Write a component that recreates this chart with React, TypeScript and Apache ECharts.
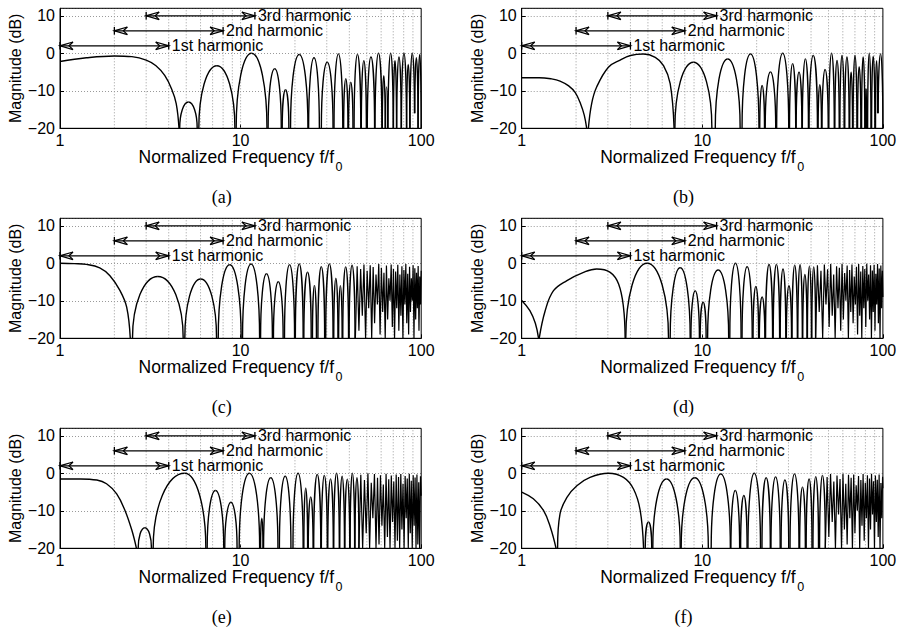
import React, { useEffect, useRef } from 'react';
import * as echarts from 'echarts';

// ---------- data ----------
const xTicks = [1, 10, 100];
const minorGrid = [2, 3, 4, 5, 6, 7, 8, 9, 10, 20, 30, 40, 50, 60, 70, 80, 90];
const yTicks = [-20, -10, 0, 10];
const yTop = 12;
const captions = ['(a)', '(b)', '(c)', '(d)', '(e)', '(f)'];

const harmonicStart = [1, 2, 3];
const harmonicEnd = [4, 8, 12];
const harmonicLevel = [2, 6, 10];
const harmonicLabels = ['1st harmonic', '2nd harmonic', '3rd harmonic'];

// lobe = [left edge f, right edge f, peak dB, left base dB?, right base dB?, peak f?]

// panel (a)
const headA = [
  [[1, -2.2], [1.4, -1.2], [2, -0.7], [2.5, -0.9], [3, -1.8], [3.4, -3.3], [3.8, -5.9], [4.15, -9.5], [4.4, -13.4], [4.56, -20]],
];
const lobesA = [
  [4.6, 5.75, -13], [5.87, 9.3, -3.3], [9.45, 14.0, 0], [14.2, 16.8, -4.1], [17.0, 18.5, -9.7],
  [18.9, 23.6, -0.3], [23.8, 27.3, -1.2], [28.0, 32.5, -2.4], [32.9, 36.8, -0.2], [37.2, 39.3, -6.8],
  [39.6, 41.9, -7.7], [42.5, 46.3, -0.3], [46.6, 49.7, -2], [50.3, 55.2, -1], [55.5, 60.6, 0],
  [60.9, 63.2, -6], [63.4, 65.2, -9], [65.5, 70.0, 0], [70.2, 73.0, -2], [73.2, 77.5, -1],
  [77.7, 82.9, 0], [83.1, 86.5, -3], [86.7, 91.8, 0, -20, -16], [92.2, 96.0, -1.2, -16, -20], [96.2, 100, -0.3],
];
const zigA: number[][] = [];

// panel (b)
const headB = [
  [[1, -6.5], [1.25, -6.5], [1.45, -6.8], [1.63, -7.4], [1.82, -8.7], [1.98, -10.5], [2.12, -13.5], [2.22, -16.5], [2.29, -20]],
  [[2.34, -20], [2.44, -13.4], [2.6, -9], [3.02, -3.7], [3.51, -1.8], [4.0, -0.6], [4.72, -0.2], [5.49, -1.1], [6.1, -3.3], [6.64, -8.1], [6.98, -20]],
];
const lobesB = [
  [7.05, 11.3, -2.4], [11.8, 16.2, -1.5], [16.6, 20.6, -0.2], [20.8, 22.1, -8.6], [22.3, 25.5, -5],
  [25.8, 30.1, 0], [30.4, 32.9, -2.8], [33.1, 35.6, -5], [35.8, 38.7, -1.5], [39.0, 43.4, -0.6],
  [43.8, 45.7, -8.4], [46.0, 49.8, -4.3], [50.2, 53.8, 0], [54.2, 57.3, -1.9], [57.8, 61.0, -0.6],
  [61.5, 65.0, -1], [65.5, 67.9, -5], [68.4, 71.8, -0.6], [72.4, 75.5, -3.6], [76.2, 79.4, -1],
  [80.0, 81.3, -9.4], [82.3, 85.9, 0], [86.6, 90.3, -0.8], [91.0, 93.5, -2, -20, -16], [94.2, 100, -0.2, -16, -20],
];
const zigB: number[][] = [];

// panel (c)
const headC = [
  [[1, 0], [1.2, -0.1], [1.4, -0.3], [1.66, -1.2], [1.89, -3.3], [2.15, -7.3], [2.34, -11.7], [2.45, -20]],
];
const lobesC = [
  [2.52, 4.81, -3.5], [4.91, 7.36, -4.2], [7.52, 10.07, -0.4], [10.25, 12.74, -0.2], [12.9, 15.0, -2.8],
  [15.2, 17.2, -4.9], [17.5, 19.9, -0.4], [20.1, 22.2, -0.2], [22.4, 24.6, -2.4], [25.0, 26.3, -5.9],
  [26.8, 29.2, -0.9], [29.6, 32.5, -0.2], [32.8, 34.6, -4], [34.9, 36.5, -6], [36.8, 39.6, -1],
  [39.9, 43.0, -0.5],
];
const zigC = [
  [43.2, -20], [44.2, -0.8], [45.2, -18], [46.2, -1.5], [47.2, -14], [48.2, -0.3], [49.2, -20], [50.2, -2],
  [51.2, -12], [52.2, -0.5], [53.2, -20], [54.2, -1], [55.2, -16], [56.2, -3], [57.2, -11], [58.2, -0.2],
  [59.2, -19], [60.2, -1.2], [61.2, -13], [62.2, -2.5], [63.2, -20], [64.2, -0.6], [65.2, -15], [66.2, -4],
  [67.2, -10], [68.2, -0.3], [69.2, -17], [70.2, -1.5], [71.2, -20], [72.2, -2.2], [73.2, -12], [74.2, -0.4],
  [75.2, -18], [76.2, -3], [77.2, -14], [78.2, -0.8], [79.2, -20], [80.2, -1.8], [81.2, -11], [82.2, -0.2],
  [83.2, -16], [84.2, -2.8], [85.2, -19], [86.2, -0.9], [87.2, -13], [88.2, -4], [89.2, -10], [90.2, -0.5],
  [91.2, -20], [92.2, -1.3], [93.2, -15], [94.2, -2.5], [95.2, -12], [96.2, -0.7], [97.2, -18], [98.2, -3.5],
  [99.2, -11], [100, -2],
];

// panel (d)
const headD = [
  [[1, -9.9], [1.11, -12.6], [1.19, -16], [1.24, -20]],
  [[1.25, -20], [1.35, -12.6], [1.5, -7.3], [1.78, -4.6], [2.2, -2.4], [2.6, -1.5], [3.09, -2.4], [3.44, -5.5], [3.66, -11.7], [3.74, -20]],
];
const lobesD = [
  [3.77, 6.5, 0], [6.64, 8.57, -1.2], [8.65, 9.64, -7.3], [9.73, 10.5, -10.4], [10.7, 14.0, -1.8],
  [14.2, 16.4, 0], [16.6, 18.9, -0.9], [19.1, 20.5, -6.2], [20.7, 22.2, -9], [22.4, 24.5, -0.3],
  [24.7, 26.8, -0.3], [27.0, 29.0, -1.5], [29.2, 31.2, -6], [31.4, 33.6, -0.5], [33.8, 35.8, -0.4],
  [36.0, 38.0, -3], [38.2, 40.2, -0.8], [40.4, 42.4, -1],
];
const zigD = [
  [42.4, -20], [43.4, -0.5], [44.4, -13], [45.4, -2], [46.4, -20], [47.4, -0.3], [48.4, -11], [49.4, -1.6],
  [50.4, -17], [51.4, -0.2], [52.4, -14], [53.4, -3], [54.4, -20], [55.4, -0.8], [56.4, -12], [57.4, -1.2],
  [58.4, -18], [59.4, -0.1], [60.4, -15], [61.4, -2.6], [62.4, -10], [63.4, -0.6], [64.4, -20], [65.4, -1.8],
  [66.4, -13], [67.4, -0.3], [68.4, -16], [69.4, -3.5], [70.4, -11], [71.4, -0.9], [72.4, -19], [73.4, -0.2],
  [74.4, -14], [75.4, -2.2], [76.4, -20], [77.4, -0.7], [78.4, -12], [79.4, -1.5], [80.4, -17], [81.4, -0.1],
  [82.4, -10], [83.4, -3], [84.4, -15], [85.4, -0.5], [86.4, -20], [87.4, -1.9], [88.4, -13], [89.4, -0.4],
  [90.4, -18], [91.4, -2.8], [92.4, -11], [93.4, -0.2], [94.4, -16], [95.4, -1.4], [96.4, -20], [97.4, -0.6],
  [98.4, -12], [99.4, -2], [100, -9],
];

// panel (e)
const headE = [
  [[1, -1.5], [1.3, -1.5], [1.6, -1.8], [1.81, -2.8], [2.06, -5.5], [2.29, -9.9], [2.5, -15.2], [2.65, -20]],
];
const lobesE = [
  [2.71, 3.21, -14.5], [3.28, 6.42, 0, -20, -20, 4.9], [6.53, 8.07, -4.6], [8.17, 9.56, -7.7], [9.82, 12.75, 0],
  [12.9, 13.3, -12], [13.4, 16.1, -1.2], [16.4, 19.0, -0.8], [19.5, 22.2, 0], [22.4, 23.5, -4],
  [23.7, 25.2, -6.3], [25.4, 27.8, -0.3], [28.0, 30.2, -0.6], [30.4, 32.6, -1.5], [32.8, 35.2, 0],
  [35.4, 37.6, -0.8], [37.8, 40.2, -1.6], [40.4, 42.8, 0], [43.0, 45.2, -1.2],
];
const zigE = [
  [45.2, -20], [46.3, -0.4], [47.4, -20], [48.5, -1.8], [49.6, -16], [50.7, 0], [51.8, -20], [52.9, -2.5],
  [54, -12], [55.1, -0.2], [56.2, -20], [57.3, -1.2], [58.4, -19], [59.5, -0.5], [60.6, -14], [61.7, -3],
  [62.8, -20], [63.9, -0.1], [65, -17], [66.1, -1.6], [67.2, -20], [68.3, -0.6], [69.4, -13], [70.5, -2.2],
  [71.6, -20], [72.7, -0.3], [73.8, -18], [74.9, -1], [76, -20], [77.1, -0.2], [78.2, -15], [79.3, -2.8],
  [80.4, -20], [81.5, -0.7], [82.6, -12], [83.7, -1.4], [84.8, -20], [85.9, -0.1], [87, -16], [88.1, -2],
  [89.2, -20], [90.3, -0.5], [91.4, -14], [92.5, -1.1], [93.6, -20], [94.7, -0.3], [95.8, -19], [96.9, -2.4],
  [98, -20], [99.1, -0.8], [100, -6],
];

// panel (f)
const headF = [
  [[1, -5], [1.16, -6.8], [1.32, -9.9], [1.44, -14.3], [1.55, -20]],
  [[1.58, -20], [1.63, -10.8], [1.78, -6.4], [2.02, -3.3], [2.39, -1.1], [3.02, 0], [3.66, -1.1], [4.16, -4.2], [4.53, -9.9], [4.73, -20]],
];
const lobesF = [
  [4.83, 5.25, -13], [5.32, 7.55, -1.5], [7.64, 10.8, -1.2], [11.2, 14.3, -0.2], [14.4, 16.1, -4.6],
  [16.3, 17.7, -5.9], [17.9, 21.0, 0], [21.4, 23.8, -1.2], [24.0, 27.0, -1], [27.3, 30.1, -1.8],
  [30.6, 34.3, -0.2], [34.6, 37.2, -3.7], [37.6, 40.5, -1.5], [41.0, 44.0, -0.9], [44.6, 48.0, -0.6],
];
const zigF = [
  [48, -20], [49.1, -1], [50.2, -17], [51.3, -0.2], [52.4, -13], [53.5, -2.2], [54.6, -20], [55.7, -0.6],
  [56.8, -11], [57.9, -1.5], [59, -20], [60.1, -0.1], [61.2, -15], [62.3, -2.8], [63.4, -19], [64.5, -0.4],
  [65.6, -12], [66.7, -1.2], [67.8, -20], [68.9, -0.3], [70, -16], [71.1, -3.2], [72.2, -10], [73.3, -0.7],
  [74.4, -20], [75.5, -1.8], [76.6, -14], [77.7, -0.2], [78.8, -18], [79.9, -2.5], [81, -12], [82.1, -0.5],
  [83.2, -20], [84.3, -1.4], [85.4, -15], [86.5, -0.1], [87.6, -11], [88.7, -2.1], [89.8, -20], [90.9, -0.6],
  [92, -13], [93.1, -1.7], [94.2, -17], [95.3, -0.3], [96.4, -20], [97.5, -2.6], [98.6, -12], [99.6, -0.9],
  [100, -4],
];

const heads = [headA, headB, headC, headD, headE, headF];
const lobes = [lobesA, lobesB, lobesC, lobesD, lobesE, lobesF];
const zigs = [zigA, zigB, zigC, zigD, zigE, zigF];

// ---------- layout & style ----------
const FONT = '"Liberation Sans", Arial, Helvetica, sans-serif';
const SERIF = '"Liberation Serif", "Times New Roman", serif';
const COLS = [60, 521.7];
const ROWS = [8.3, 218.3, 428.3];
const GW = 361.2;
const GH = 120;
const INK = '#000';
const GRIDC = '#9a9a9a';

function gridLineItem(params: any, api: any) {
  const v = api.value(0);
  const p0 = api.coord([v, yTicks[0]]);
  const p1 = api.coord([v, yTop]);
  return {
    type: 'line',
    shape: { x1: p0[0], y1: p0[1], x2: p1[0], y2: p1[1] },
    style: { stroke: GRIDC, lineWidth: 1, lineDash: [1, 2], fill: 'none' },
  };
}

function lobeItem(params: any, api: any) {
  const fL = api.value(0), fR = api.value(1), pk = api.value(2), bL = api.value(3), bR = api.value(4), fP = api.value(5);
  const pL = api.coord([fL, bL]);
  const pR = api.coord([fR, bR]);
  const xm = fP > 0 ? api.coord([fP, pk])[0] : (pL[0] + pR[0]) / 2;
  const yP = api.coord([fL, pk])[1];
  const k = 0.552;
  const st = { stroke: INK, lineWidth: 1.4, fill: 'none' };
  return {
    type: 'group',
    children: [
      { type: 'bezierCurve', shape: { x1: pL[0], y1: pL[1], cpx1: pL[0], cpy1: pL[1] + k * (yP - pL[1]), cpx2: xm - k * (xm - pL[0]), cpy2: yP, x2: xm, y2: yP }, style: st },
      { type: 'bezierCurve', shape: { x1: xm, y1: yP, cpx1: xm + k * (pR[0] - xm), cpy1: yP, cpx2: pR[0], cpy2: pR[1] + k * (yP - pR[1]), x2: pR[0], y2: pR[1] }, style: st },
    ],
  };
}

function arrowItem(params: any, api: any) {
  const a = api.coord([api.value(0), api.value(2)]);
  const b = api.coord([api.value(1), api.value(2)]);
  const L = 13, H = 3.8, N = 9;
  const st = { stroke: INK, lineWidth: 1.3, fill: 'none' };
  return {
    type: 'group',
    children: [
      { type: 'line', shape: { x1: a[0], y1: a[1], x2: b[0], y2: b[1] }, style: st },
      { type: 'line', shape: { x1: a[0], y1: a[1] - H, x2: a[0], y2: a[1] + H }, style: st },
      { type: 'line', shape: { x1: b[0], y1: b[1] - H, x2: b[0], y2: b[1] + H }, style: st },
      { type: 'polyline', shape: { points: [[a[0] + L, a[1] - H], [a[0], a[1]], [a[0] + L, a[1] + H]] }, style: st },
      { type: 'polyline', shape: { points: [[a[0] + L, a[1] - H], [a[0] + N, a[1]], [a[0] + L, a[1] + H]] }, style: st },
      { type: 'polyline', shape: { points: [[b[0] - L, b[1] - H], [b[0], b[1]], [b[0] - L, b[1] + H]] }, style: st },
      { type: 'polyline', shape: { points: [[b[0] - L, b[1] - H], [b[0] - N, b[1]], [b[0] - L, b[1] + H]] }, style: st },
      {
        type: 'text', x: b[0] + 3, y: b[1],
        style: { text: harmonicLabels[params.dataIndex], fontSize: 16, fontFamily: FONT, fill: INK, align: 'left', verticalAlign: 'middle' },
      },
    ],
  };
}

function buildOption() {
  const grid: any[] = [];
  const xAxis: any[] = [];
  const yAxis: any[] = [];
  const series: any[] = [];
  const graphic: any[] = [];

  for (let i = 0; i < 6; i++) {
    const left = COLS[i % 2];
    const top = ROWS[Math.floor(i / 2)];
    grid.push({ left, top, width: GW, height: GH, show: false });
    xAxis.push({
      type: 'log', logBase: 10, gridIndex: i, min: xTicks[0], max: xTicks[xTicks.length - 1],
      axisLine: { show: true, onZero: false, lineStyle: { color: INK, width: 1 } },
      axisTick: { show: true, inside: true, length: 4, lineStyle: { color: INK } },
      axisLabel: { fontSize: 16, color: INK, fontFamily: FONT, margin: 4 },
      splitLine: { show: false },
    });
    yAxis.push({
      type: 'value', gridIndex: i, min: yTicks[0], max: yTop, interval: 10,
      axisLine: { show: true, onZero: false, lineStyle: { color: INK, width: 1 } },
      axisTick: { show: true, inside: true, length: 4, lineStyle: { color: INK } },
      axisLabel: {
        fontSize: 16, color: INK, fontFamily: FONT, margin: 5, showMaxLabel: false,
        formatter: (v: number) => (yTicks.indexOf(v) < 0 ? '' : v < 0 ? '\u2212' + Math.abs(v) : String(v)),
      },
      splitLine: { show: true, lineStyle: { color: GRIDC, type: [1, 2], width: 1 } },
      name: 'Magnitude (dB)', nameLocation: 'middle', nameGap: 36,
      nameTextStyle: { fontSize: 16, color: INK, fontFamily: FONT },
    });

    // vertical dotted grid lines
    series.push({
      type: 'custom', xAxisIndex: i, yAxisIndex: i, clip: false, silent: true, z: 1,
      dimensions: ['f'], encode: { x: 0 },
      data: minorGrid.map((v) => [v]),
      renderItem: gridLineItem,
    });

    heads[i].forEach((seg) => {
      series.push({
        type: 'line', xAxisIndex: i, yAxisIndex: i, data: seg, smooth: 0.4, symbol: 'none',
        lineStyle: { color: INK, width: 1.4 }, silent: true, clip: true, z: 3,
      });
    });

    series.push({
      type: 'custom', xAxisIndex: i, yAxisIndex: i, clip: true, silent: true, z: 3,
      dimensions: ['fL', 'fR', 'pk', 'bL', 'bR', 'fP'],
      encode: { x: [0, 1], y: [2, 3, 4] },
      data: lobes[i].map((l) => [l[0], l[1], l[2], l[3] ?? -20, l[4] ?? -20, l[5] ?? 0]),
      renderItem: lobeItem,
    });

    if (zigs[i].length) {
      series.push({
        type: 'line', xAxisIndex: i, yAxisIndex: i, data: zigs[i], smooth: false, symbol: 'none',
        lineStyle: { color: INK, width: 1.2 }, silent: true, clip: true, z: 3,
      });
    }

    series.push({
      type: 'custom', xAxisIndex: i, yAxisIndex: i, clip: false, silent: true, z: 4,
      dimensions: ['x1', 'x2', 'y'],
      encode: { x: [0, 1], y: 2 },
      data: harmonicStart.map((s, k) => [s, harmonicEnd[k], harmonicLevel[k]]),
      renderItem: arrowItem,
    });

    graphic.push({
      type: 'rect', z: 100, silent: true,
      shape: { x: left, y: top, width: GW, height: GH },
      style: { fill: 'none', stroke: INK, lineWidth: 1 },
    });
    graphic.push({
      type: 'text', z: 100, silent: true, x: left + 78.5, y: top + 149,
      style: { text: 'Normalized Frequency f/f', fontSize: 17.5, fontFamily: FONT, fill: INK, align: 'left', verticalAlign: 'middle' },
    });
    graphic.push({
      type: 'text', z: 100, silent: true, x: left + 275.5, y: top + 158.5,
      style: { text: '0', fontSize: 12.5, fontFamily: FONT, fill: INK, align: 'left', verticalAlign: 'middle' },
    });
    graphic.push({
      type: 'text', z: 100, silent: true, x: left + 161.7, y: top + 188.5,
      style: { text: captions[i], fontSize: 18, fontFamily: SERIF, fill: INK, align: 'center', verticalAlign: 'middle' },
    });
  }

  return {
    animation: false,
    backgroundColor: '#fff',
    textStyle: { fontFamily: FONT },
    grid, xAxis, yAxis, series, graphic,
  };
}

export default function App() {
  const ref = useRef<HTMLDivElement>(null);
  useEffect(() => {
    const chart = echarts.init(ref.current as HTMLDivElement, null, { renderer: 'svg' });
    chart.setOption(buildOption() as any);
    return () => chart.dispose();
  }, []);
  return (
    <div
      ref={ref}
      style={{ position: 'fixed', left: 0, top: 0, width: 901, height: 631, background: '#fff' }}
    />
  );
}
